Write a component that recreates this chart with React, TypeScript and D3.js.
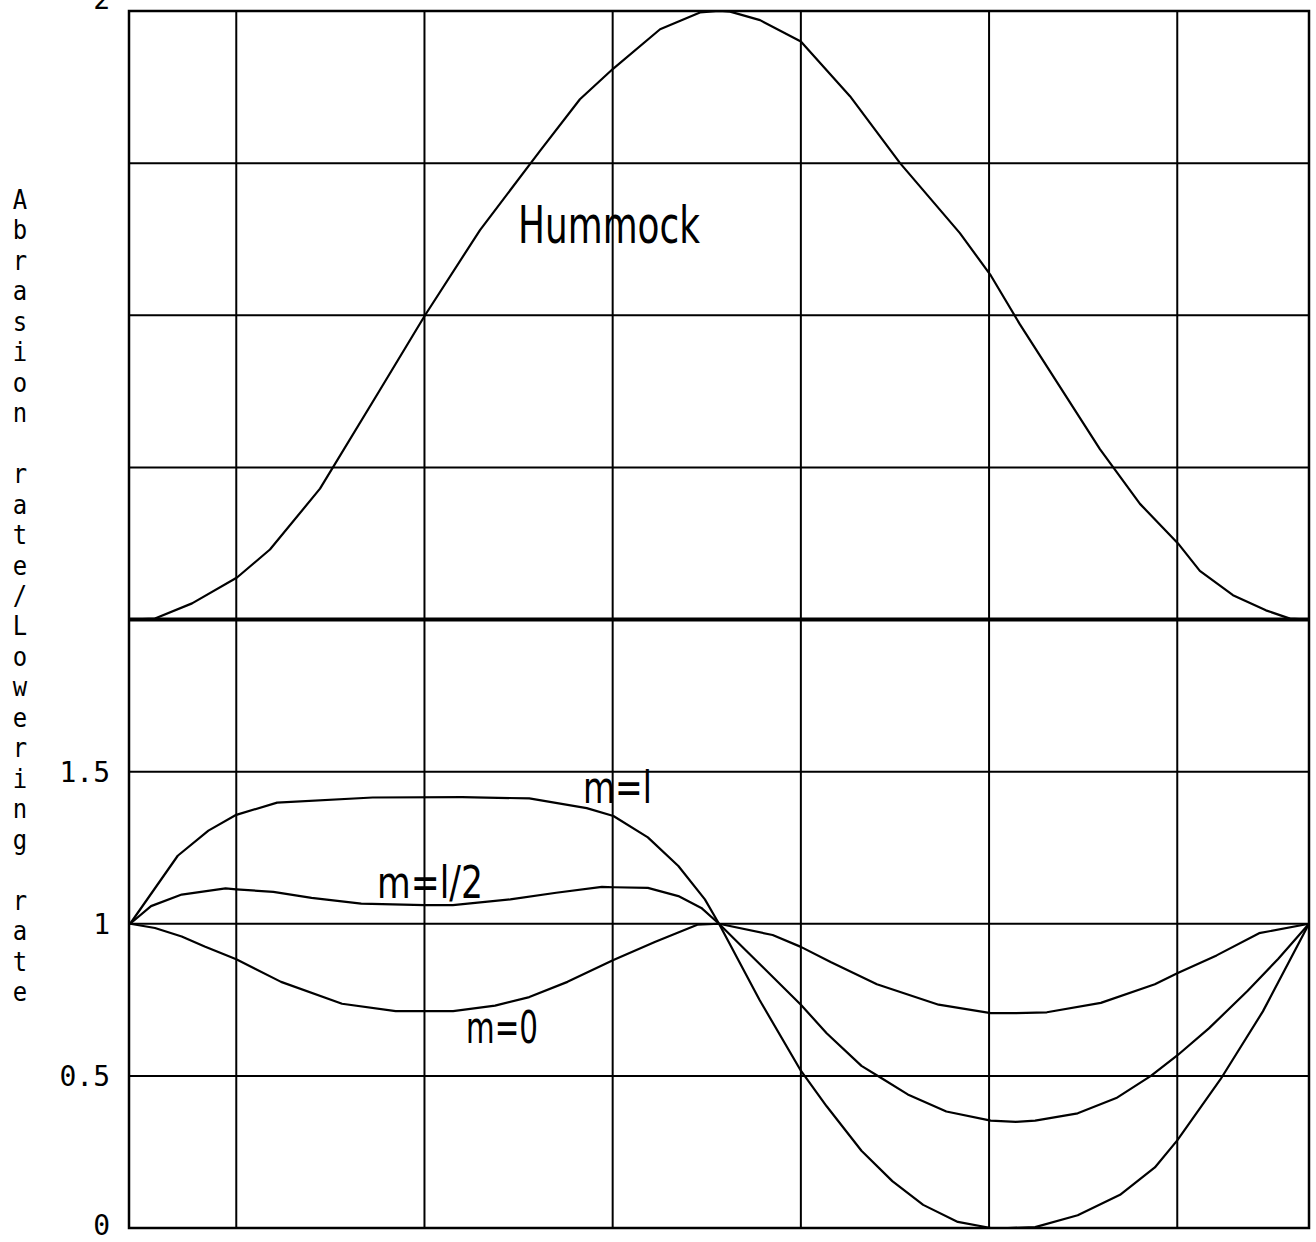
import React from 'react';
import * as d3 from 'd3';

// Grid positions (x in profile units, y in rate units; the hummock panel sits on y = 2)
const xGridValues = [1, 2, 3, 4, 5, 6];
const yGridValues = [0, 0.5, 1, 1.5, 2, 2.5, 3, 3.5, 4];
const yTickValues = [0, 0.5, 1, 1.5];
const yTickLabels = ['0', '0.5', '1', '1.5'];
const hummockBaseValue = 2;
const yAxisTitle = 'Abrasion rate/Lowering rate';

// Hummock profile, drawn above the y = 2 baseline
const hummock: [number, number][] = [
  [0.435, 2.0], [0.568, 2.003], [0.765, 2.053], [1.004, 2.138], [1.179, 2.23],
  [1.445, 2.43], [1.764, 2.755], [2.003, 3.0], [2.295, 3.28], [2.614, 3.54],
  [2.826, 3.71], [3.002, 3.81], [3.252, 3.94], [3.464, 3.995], [3.565, 4.0],
  [3.624, 3.998], [3.783, 3.97], [4.0, 3.9], [4.261, 3.72], [4.527, 3.5],
  [4.845, 3.27], [5.01, 3.13], [5.164, 2.97], [5.589, 2.56], [5.802, 2.38],
  [6.004, 2.25], [6.12, 2.16], [6.296, 2.08], [6.471, 2.03], [6.599, 2.003],
  [6.695, 2.0],
];

// Abrasion rate / lowering rate for m = 1
const rateM1: [number, number][] = [
  [0.436, 1.0], [0.689, 1.2235], [0.852, 1.306], [1.0, 1.358], [1.217, 1.398],
  [1.725, 1.415], [2.2, 1.416], [2.557, 1.412], [2.862, 1.38], [3.004, 1.354],
  [3.187, 1.284], [3.349, 1.19], [3.49, 1.08], [3.565, 1.0], [3.78, 0.75],
  [4.0, 0.517], [4.137, 0.4], [4.322, 0.254], [4.486, 0.154], [4.65, 0.076],
  [4.834, 0.02], [5.009, 0.0], [5.1, 0.0], [5.245, 0.003], [5.471, 0.042],
  [5.696, 0.109], [5.881, 0.199], [6.0, 0.288], [6.23, 0.489], [6.455, 0.712],
  [6.7, 1.0],
];

// Abrasion rate / lowering rate for m = 1/2
const rateMHalf: [number, number][] = [
  [0.436, 1.0], [0.547, 1.058], [0.71, 1.096], [0.943, 1.116], [1.0, 1.113],
  [1.197, 1.105], [1.4, 1.085], [1.664, 1.066], [2.0, 1.061], [2.151, 1.061],
  [2.456, 1.08], [2.7, 1.102], [2.943, 1.121], [3.004, 1.12], [3.187, 1.118],
  [3.349, 1.091], [3.471, 1.052], [3.565, 1.0], [3.707, 0.913], [4.0, 0.734],
  [4.137, 0.64], [4.322, 0.533], [4.425, 0.494], [4.568, 0.439], [4.773, 0.383],
  [5.009, 0.353], [5.143, 0.349], [5.245, 0.353], [5.471, 0.377], [5.676, 0.427],
  [5.86, 0.5], [6.0, 0.567], [6.168, 0.656], [6.373, 0.779], [6.537, 0.885],
  [6.7, 1.0],
];

// Abrasion rate / lowering rate for m = 0
const rateM0: [number, number][] = [
  [0.436, 1.0], [0.568, 0.986], [0.71, 0.958], [0.832, 0.925], [1.0, 0.883],
  [1.238, 0.809], [1.562, 0.737], [1.847, 0.713], [2.0, 0.713], [2.152, 0.713],
  [2.375, 0.731], [2.557, 0.759], [2.76, 0.809], [3.004, 0.881], [3.227, 0.941],
  [3.45, 0.997], [3.565, 1.0], [3.85, 0.963], [4.0, 0.924], [4.158, 0.874],
  [4.404, 0.801], [4.732, 0.734], [5.009, 0.706], [5.143, 0.706], [5.307, 0.709],
  [5.594, 0.74], [5.881, 0.801], [6.0, 0.837], [6.209, 0.896], [6.435, 0.969],
  [6.7, 1.0],
];

const series = [hummock, rateM1, rateMHalf, rateM0];

const curveLabelTexts = ['Hummock', 'm=l', 'm=l/2', 'm=0'];
const curveLabelX = [2.497, 2.842, 1.748, 2.221];
const curveLabelY = [3.238, 1.396, 1.084, 0.608];

const W = 1316;
const H = 1242;
const left = 129;
const right = 1309;
const top = 11;
const bottom = 1228;

export default function App() {
  const x = d3.scaleLinear().domain([0.43, 6.7]).range([left, right]);
  const y = d3.scaleLinear().domain([0, 4]).range([bottom, top]);
  const line = d3
    .line<[number, number]>()
    .x((d) => x(d[0]))
    .y((d) => y(d[1]))
    .curve(d3.curveLinear);

  const labelSizes = [52, 44, 44, 44];
  const labelLengths = [182, 69, 106, 72];
  const tickSize = 28;
  const titleSize = 26;
  const titlePitch = 30.46;

  return (
    <div style={{ position: 'absolute', left: 0, top: 0 }}>
      <svg width={W} height={H} viewBox={`0 0 ${W} ${H}`} style={{ display: 'block', background: '#fff' }}>
        <rect x={0} y={0} width={W} height={H} fill="#fff" />
        {/* vertical grid */}
        {xGridValues.map((v) => (
          <line key={`vx${v}`} x1={x(v)} x2={x(v)} y1={top} y2={bottom} stroke="#000" strokeWidth={2} />
        ))}
        {/* horizontal grid */}
        {yGridValues.map((v) => (
          <line
            key={`hy${v}`}
            x1={left}
            x2={right}
            y1={y(v)}
            y2={y(v)}
            stroke="#000"
            strokeWidth={v === hummockBaseValue ? 4 : 2}
          />
        ))}
        {/* frame */}
        <rect x={left} y={top} width={right - left} height={bottom - top} fill="none" stroke="#000" strokeWidth={2.5} />

        {/* curves */}
        {series.map((s, i) => (
          <path key={`s${i}`} d={line(s) || ''} fill="none" stroke="#000" strokeWidth={2.2} strokeLinejoin="round" />
        ))}

        {/* tick labels */}
        {yTickValues.map((v, i) => (
          <text
            key={`t${v}`}
            x={110}
            y={Math.min(y(v) + 0.37 * tickSize, H - 0.24 * tickSize)}
            textAnchor="end"
            fontFamily="DejaVu Sans Mono"
            fontSize={tickSize}
            fill="#000"
          >
            {yTickLabels[i]}
          </text>
        ))}
        <text x={110} y={9} textAnchor="end" fontFamily="DejaVu Sans Mono" fontSize={tickSize} fill="#000">
          2
        </text>

        {/* axis title, upright letters stacked down the left side */}
        {yAxisTitle.split('').map((ch, k) => (
          <text
            key={`c${k}`}
            transform={`translate(20, ${209 + titlePitch * k}) scale(0.92, 1)`}
            textAnchor="middle"
            fontFamily="DejaVu Sans Mono"
            fontSize={titleSize}
            fill="#000"
          >
            {ch}
          </text>
        ))}

        {/* curve labels */}
        {curveLabelTexts.map((t, i) => (
          <text
            key={`l${i}`}
            x={x(curveLabelX[i])}
            y={y(curveLabelY[i])}
            fontFamily="DejaVu Sans"
            fontSize={labelSizes[i]}
            textLength={labelLengths[i]}
            lengthAdjust="spacingAndGlyphs"
            fill="#000"
          >
            {t}
          </text>
        ))}
      </svg>
    </div>
  );
}
